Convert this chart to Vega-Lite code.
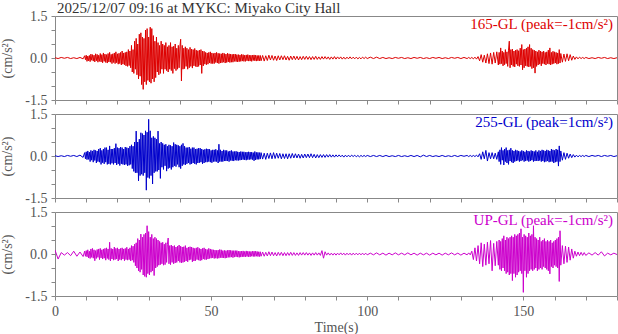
{
"$schema":"https://vega.github.io/schema/vega-lite/v6.json",
"background":"white",
"padding":{"left":0,"top":0,"right":1,"bottom":1},
"config":{
"font":"Liberation Serif",
"view":{"stroke":"#888","strokeWidth":1},
"axis":{"grid":false,"domain":false,"ticks":true,"tickColor":"#888888","tickWidth":1,"tickOpacity":1,"tickSize":4,"labelFont":"Liberation Serif","labelFontSize":14,"labelColor":"#555","titleFont":"Liberation Serif","titleFontSize":14,"titleColor":"#555","titleFontWeight":"normal","labelFlush":false,"labelOverlap":false}
},
"spacing":14,
"bounds":"flush",
"datasets":{"w":[
{"t":0,"a":0.01,"b":0.01,"c":0.14},{"t":1,"a":-0.02,"b":-0.02,"c":-0.18},{"t":2,"a":0.02,"b":0.01,"c":0.05},{"t":3,"a":-0.01,"b":-0.02,"c":-0.04},{"t":4,"a":0.02,"b":0.02,"c":0.05},{"t":5,"a":-0.02,"b":-0.01,"c":-0.06},{"t":6,"a":0.01,"b":0.02,"c":0.1},{"t":7,"a":-0.02,"b":-0.02,"c":-0.08},{"t":8,"a":0.02,"b":0.03,"c":0.07},{"t":9,"a":-0.03,"b":-0.05,"c":-0.09},
{"t":9.5,"a":0.08,"b":0.12,"c":0.1},{"t":9.75,"a":-0.06,"b":-0.1,"c":-0.08},{"t":10,"a":0.1,"b":0.15,"c":0.12},{"t":10.25,"a":-0.12,"b":-0.13,"c":-0.1},{"t":10.5,"a":0.07,"b":0.18,"c":0.15},{"t":10.75,"a":-0.1,"b":-0.12,"c":-0.14},{"t":11,"a":0.09,"b":0.14,"c":0.1},{"t":11.25,"a":-0.13,"b":-0.2,"c":-0.16},{"t":11.5,"a":0.14,"b":0.2,"c":0.18},{"t":11.75,"a":-0.08,"b":-0.15,"c":-0.12},{"t":12,"a":0.12,"b":0.18,"c":0.2},{"t":12.25,"a":-0.11,"b":-0.22,"c":-0.15},{"t":12.5,"a":0.1,"b":0.22,"c":0.15},{"t":12.75,"a":-0.14,"b":-0.16,"c":-0.24},{"t":13,"a":0.15,"b":0.2,"c":0.12},{"t":13.25,"a":-0.1,"b":-0.25,"c":-0.16},{"t":13.5,"a":0.13,"b":0.18,"c":0.16},{"t":13.75,"a":-0.15,"b":-0.2,"c":-0.12},{"t":14,"a":0.1,"b":0.25,"c":0.18},{"t":14.25,"a":-0.12,"b":-0.22,"c":-0.2},{"t":14.5,"a":0.16,"b":0.28,"c":0.2},{"t":14.75,"a":-0.14,"b":-0.3,"c":-0.14},{"t":15,"a":0.12,"b":0.2,"c":0.15},{"t":15.25,"a":-0.17,"b":-0.24,"c":-0.18},{"t":15.5,"a":0.18,"b":0.25,"c":0.18},{"t":15.75,"a":-0.12,"b":-0.28,"c":-0.15},{"t":16,"a":0.14,"b":0.3,"c":0.2},{"t":16.25,"a":-0.16,"b":-0.22,"c":-0.22},{"t":16.5,"a":0.12,"b":0.3,"c":0.22},{"t":16.75,"a":-0.18,"b":-0.3,"c":-0.16},{"t":17,"a":0.16,"b":0.22,"c":0.18},{"t":17.25,"a":-0.14,"b":-0.28,"c":-0.2},{"t":17.5,"a":0.2,"b":0.36,"c":0.42},{"t":17.75,"a":-0.15,"b":-0.3,"c":-0.25},{"t":18,"a":0.13,"b":0.25,"c":0.2},{"t":18.25,"a":-0.2,"b":-0.26,"c":-0.18},{"t":18.5,"a":0.15,"b":0.25,"c":0.18},{"t":18.75,"a":-0.16,"b":-0.3,"c":-0.22},{"t":19,"a":0.18,"b":0.28,"c":0.25},{"t":19.25,"a":-0.2,"b":-0.25,"c":-0.2},{"t":19.5,"a":0.22,"b":0.44,"c":0.2},{"t":19.75,"a":-0.17,"b":-0.32,"c":-0.18},{"t":20,"a":0.15,"b":0.3,"c":0.22},{"t":20.25,"a":-0.22,"b":-0.28,"c":-0.25},{"t":20.5,"a":0.17,"b":0.28,"c":0.18},{"t":20.75,"a":-0.2,"b":-0.34,"c":-0.2},{"t":21,"a":0.2,"b":0.32,"c":0.2},{"t":21.25,"a":-0.25,"b":-0.28,"c":-0.22},{"t":21.5,"a":0.25,"b":0.3,"c":0.22},{"t":21.75,"a":-0.22,"b":-0.3,"c":-0.18},{"t":22,"a":0.18,"b":0.25,"c":0.18},{"t":22.25,"a":-0.24,"b":-0.32,"c":-0.24},{"t":22.5,"a":0.2,"b":0.32,"c":0.2},{"t":22.75,"a":-0.28,"b":-0.3,"c":-0.2},{"t":23,"a":0.22,"b":0.3,"c":0.24},{"t":23.25,"a":-0.3,"b":-0.35,"c":-0.22},{"t":23.5,"a":0.3,"b":0.28,"c":0.18},{"t":23.75,"a":-0.27,"b":-0.33,"c":-0.2},{"t":24,"a":0.25,"b":0.35,"c":0.22},
{"t":24.25,"a":-0.35,"b":-0.3,"c":-0.25},{"t":24.5,"a":0.45,"b":0.4,"c":0.3},{"t":24.75,"a":-0.5,"b":-0.45,"c":-0.22},{"t":25,"a":0.3,"b":0.35,"c":0.28},{"t":25.25,"a":-0.55,"b":-0.55,"c":-0.3},{"t":25.5,"a":0.6,"b":0.5,"c":0.35},{"t":25.75,"a":-0.4,"b":-0.6,"c":-0.42},{"t":26,"a":0.7,"b":0.89,"c":0.4},{"t":26.25,"a":-0.6,"b":-0.6,"c":-0.5},{"t":26.5,"a":0.5,"b":0.5,"c":0.55},{"t":26.75,"a":-0.75,"b":-0.89,"c":-0.6},{"t":27,"a":0.85,"b":0.6,"c":0.5},{"t":27.25,"a":-0.65,"b":-0.7,"c":-0.65},{"t":27.5,"a":0.9,"b":0.83,"c":0.71},{"t":27.75,"a":-0.95,"b":-0.65,"c":-0.55},{"t":28,"a":0.75,"b":0.8,"c":0.6},{"t":28.25,"a":-1.12,"b":-0.7,"c":-0.75},{"t":28.5,"a":0.7,"b":0.75,"c":0.7},{"t":28.75,"a":-0.85,"b":-0.6,"c":-0.8},{"t":29,"a":1.0,"b":0.9,"c":0.75},{"t":29.25,"a":-0.95,"b":-1.22,"c":-0.83},{"t":29.5,"a":1.05,"b":0.85,"c":1.01},{"t":29.75,"a":-0.8,"b":-0.77,"c":-0.7},{"t":30,"a":0.75,"b":1.31,"c":0.8},{"t":30.25,"a":-0.85,"b":-0.8,"c":-0.75},{"t":30.5,"a":1.1,"b":0.9,"c":0.6},{"t":30.75,"a":-0.9,"b":-0.7,"c":-0.65},{"t":31,"a":1.05,"b":0.65,"c":0.7},{"t":31.25,"a":-0.75,"b":-1.0,"c":-0.6},{"t":31.5,"a":0.8,"b":0.7,"c":0.55},{"t":31.75,"a":-0.85,"b":-0.6,"c":-0.77},{"t":32,"a":0.6,"b":0.65,"c":0.6},{"t":32.25,"a":-0.7,"b":-0.55,"c":-0.5},{"t":32.5,"a":0.75,"b":0.6,"c":0.55},{"t":32.75,"a":-0.5,"b":-0.55,"c":-0.45},{"t":33,"a":0.55,"b":0.89,"c":0.5},{"t":33.25,"a":-0.6,"b":-0.5,"c":-0.4},{"t":33.5,"a":0.45,"b":0.45,"c":0.45},{"t":33.75,"a":-0.55,"b":-0.8,"c":-0.38},{"t":34,"a":0.6,"b":0.5,"c":0.4},{"t":34.25,"a":-0.4,"b":-0.4,"c":-0.35},{"t":34.5,"a":0.5,"b":0.45,"c":0.42},{"t":34.75,"a":-0.55,"b":-0.48,"c":-0.4},{"t":35,"a":0.45,"b":0.4,"c":0.35},{"t":35.25,"a":-0.4,"b":-0.35,"c":-0.38},{"t":35.5,"a":0.55,"b":0.42,"c":0.4},{"t":35.75,"a":-0.45,"b":-0.54,"c":-0.3},{"t":36,"a":0.4,"b":0.35,"c":0.35},
{"t":36.25,"a":-0.5,"b":-0.45,"c":0.57},{"t":36.5,"a":0.45,"b":0.4,"c":-0.35},{"t":36.75,"a":-0.4,"b":-0.42,"c":0.3},{"t":37,"a":0.55,"b":0.38,"c":-0.38},{"t":37.25,"a":-0.45,"b":-0.48,"c":0.32},{"t":37.5,"a":0.4,"b":0.35,"c":-0.3},{"t":37.75,"a":-0.55,"b":-0.4,"c":0.28},{"t":38,"a":0.42,"b":0.48,"c":-0.35},{"t":38.25,"a":-0.38,"b":-0.35,"c":0.3},{"t":38.5,"a":0.5,"b":0.42,"c":-0.32},{"t":38.75,"a":-0.45,"b":-0.38,"c":0.25},{"t":39,"a":0.35,"b":0.4,"c":-0.3},{"t":39.25,"a":-0.4,"b":-0.3,"c":0.28},{"t":39.5,"a":0.45,"b":0.38,"c":-0.25},{"t":39.75,"a":-0.35,"b":-0.4,"c":0.32},{"t":40,"a":0.4,"b":0.35,"c":-0.3},{"t":40.25,"a":0.67,"b":-0.45,"c":0.28},{"t":40.5,"a":-0.82,"b":0.4,"c":-0.32},{"t":40.75,"a":0.45,"b":-0.35,"c":0.25},{"t":41,"a":-0.4,"b":0.45,"c":-0.3},{"t":41.25,"a":0.35,"b":-0.3,"c":0.26},{"t":41.5,"a":-0.38,"b":0.35,"c":-0.28},{"t":41.75,"a":0.4,"b":-0.32,"c":0.3},{"t":42,"a":-0.3,"b":0.3,"c":-0.25},{"t":42.25,"a":0.35,"b":-0.28,"c":0.22},{"t":42.5,"a":-0.4,"b":0.3,"c":-0.28},{"t":42.75,"a":0.3,"b":-0.25,"c":0.25},{"t":43,"a":-0.35,"b":0.32,"c":-0.22},{"t":43.25,"a":0.38,"b":-0.3,"c":0.26},{"t":43.5,"a":-0.3,"b":0.26,"c":-0.2},{"t":43.75,"a":0.32,"b":-0.28,"c":0.25},{"t":44,"a":-0.36,"b":0.3,"c":-0.28},{"t":44.25,"a":0.3,"b":-0.25,"c":0.22},{"t":44.5,"a":-0.28,"b":0.3,"c":-0.25},{"t":44.75,"a":0.34,"b":-0.28,"c":0.2},{"t":45,"a":-0.3,"b":0.25,"c":-0.24},{"t":45.25,"a":0.28,"b":-0.3,"c":0.22},{"t":45.5,"a":-0.32,"b":0.26,"c":-0.2},{"t":45.75,"a":0.26,"b":-0.25,"c":0.24},{"t":46,"a":-0.3,"b":0.28,"c":-0.22},{"t":46.25,"a":0.28,"b":-0.24,"c":0.2},{"t":46.5,"a":-0.25,"b":0.28,"c":-0.24},{"t":46.75,"a":0.3,"b":-0.22,"c":0.18},{"t":47,"a":-0.55,"b":0.25,"c":-0.22},{"t":47.25,"a":0.25,"b":-0.28,"c":0.2},{"t":47.5,"a":-0.28,"b":0.22,"c":-0.18},{"t":47.75,"a":0.24,"b":-0.25,"c":0.22},{"t":48,"a":-0.22,"b":0.24,"c":-0.2},{"t":48.25,"a":0.2,"b":-0.22,"c":0.18},{"t":48.5,"a":-0.24,"b":0.26,"c":-0.2},{"t":48.75,"a":0.18,"b":-0.22,"c":0.16},{"t":49,"a":-0.22,"b":0.25,"c":-0.18},{"t":49.25,"a":0.2,"b":-0.2,"c":0.2},{"t":49.5,"a":-0.18,"b":0.24,"c":-0.16},{"t":49.75,"a":0.22,"b":-0.22,"c":0.18},{"t":50,"a":-0.2,"b":0.2,"c":-0.15},{"t":50.25,"a":0.18,"b":-0.24,"c":0.16},{"t":50.5,"a":-0.2,"b":0.22,"c":-0.14},{"t":50.75,"a":0.16,"b":-0.2,"c":0.15},{"t":51,"a":-0.2,"b":0.22,"c":-0.16},{"t":51.25,"a":0.18,"b":-0.2,"c":0.14},{"t":51.5,"a":-0.16,"b":0.24,"c":-0.15},{"t":51.75,"a":0.2,"b":-0.2,"c":0.13},{"t":52,"a":-0.18,"b":0.2,"c":-0.16},{"t":52.25,"a":0.17,"b":-0.25,"c":0.14},{"t":52.5,"a":-0.2,"b":0.42,"c":-0.15},{"t":52.75,"a":0.16,"b":-0.2,"c":0.16},{"t":53,"a":-0.18,"b":0.22,"c":-0.13},{"t":53.25,"a":0.15,"b":-0.2,"c":0.15},{"t":53.5,"a":-0.17,"b":0.18,"c":-0.14},{"t":53.75,"a":0.18,"b":-0.2,"c":0.12},{"t":54,"a":-0.15,"b":0.22,"c":-0.14},{"t":54.25,"a":0.16,"b":-0.18,"c":0.13},{"t":54.5,"a":-0.18,"b":0.2,"c":-0.15},{"t":54.75,"a":0.14,"b":-0.18,"c":0.12},{"t":55,"a":-0.16,"b":0.2,"c":-0.14},{"t":55.25,"a":0.17,"b":-0.18,"c":0.13},{"t":55.5,"a":-0.14,"b":0.16,"c":-0.12},{"t":55.75,"a":0.15,"b":-0.2,"c":0.14},{"t":56,"a":-0.16,"b":0.18,"c":-0.12},{"t":56.25,"a":0.14,"b":-0.16,"c":0.13},{"t":56.5,"a":-0.15,"b":0.2,"c":-0.11},{"t":56.75,"a":0.13,"b":-0.17,"c":0.12},{"t":57,"a":-0.15,"b":0.16,"c":-0.13},{"t":57.25,"a":0.14,"b":-0.18,"c":0.12},{"t":57.5,"a":-0.12,"b":0.16,"c":-0.11},{"t":57.75,"a":0.14,"b":-0.15,"c":0.12},{"t":58,"a":-0.13,"b":0.17,"c":-0.1},{"t":58.25,"a":0.12,"b":-0.16,"c":0.12},{"t":58.5,"a":-0.14,"b":0.15,"c":-0.11},{"t":58.75,"a":0.12,"b":-0.16,"c":0.1},{"t":59,"a":-0.13,"b":0.14,"c":-0.12},{"t":59.25,"a":0.11,"b":-0.15,"c":0.1},{"t":59.5,"a":-0.12,"b":0.16,"c":-0.11},{"t":59.75,"a":0.13,"b":-0.14,"c":0.1},{"t":60,"a":-0.11,"b":0.15,"c":-0.1},{"t":60.25,"a":0.12,"b":-0.13,"c":0.11},{"t":60.5,"a":-0.12,"b":0.15,"c":-0.1},{"t":60.75,"a":0.1,"b":-0.14,"c":0.09},{"t":61,"a":-0.12,"b":0.13,"c":-0.1},{"t":61.25,"a":0.11,"b":-0.15,"c":0.11},{"t":61.5,"a":-0.1,"b":0.14,"c":-0.09},{"t":61.75,"a":0.12,"b":-0.13,"c":0.1},{"t":62,"a":-0.11,"b":0.15,"c":-0.1},{"t":62.25,"a":0.1,"b":-0.13,"c":0.09},{"t":62.5,"a":-0.11,"b":0.14,"c":-0.1},{"t":62.75,"a":0.1,"b":-0.12,"c":0.09},{"t":63,"a":-0.12,"b":0.14,"c":-0.08},{"t":63.25,"a":0.1,"b":-0.13,"c":0.1},{"t":63.5,"a":-0.09,"b":0.12,"c":-0.09},{"t":63.75,"a":0.11,"b":-0.17,"c":0.1},{"t":64,"a":-0.1,"b":0.16,"c":-0.09},{"t":64.25,"a":0.1,"b":-0.14,"c":0.1},{"t":64.5,"a":-0.11,"b":0.13,"c":-0.08},{"t":64.75,"a":0.09,"b":-0.12,"c":0.09},{"t":65,"a":-0.1,"b":0.13,"c":-0.09},{"t":65.25,"a":0.09,"b":-0.12,"c":0.08},{"t":65.5,"a":-0.1,"b":0.12,"c":-0.09},{"t":65.75,"a":0.09,"b":-0.11,"c":0.08},{"t":66,"a":-0.1,"b":0.12,"c":-0.08},
{"t":66.5,"a":0.09,"b":-0.11,"c":0.07},{"t":67,"a":-0.11,"b":0.1,"c":-0.08},{"t":67.5,"a":0.08,"b":-0.12,"c":0.06},{"t":68,"a":-0.09,"b":0.1,"c":-0.07},{"t":68.5,"a":0.1,"b":-0.09,"c":0.08},{"t":69,"a":-0.07,"b":0.11,"c":-0.06},{"t":69.5,"a":0.09,"b":-0.1,"c":0.07},{"t":70,"a":-0.08,"b":0.12,"c":-0.06},{"t":70.5,"a":0.07,"b":-0.09,"c":0.05},{"t":71,"a":-0.09,"b":0.1,"c":-0.07},{"t":71.5,"a":0.08,"b":-0.08,"c":0.06},{"t":72,"a":-0.07,"b":0.09,"c":-0.05},{"t":72.5,"a":0.08,"b":-0.1,"c":0.06},{"t":73,"a":-0.06,"b":0.08,"c":-0.06},{"t":73.5,"a":0.08,"b":-0.09,"c":0.05},{"t":74,"a":-0.07,"b":0.08,"c":-0.06},{"t":74.5,"a":0.06,"b":-0.1,"c":0.05},{"t":75,"a":-0.08,"b":0.08,"c":-0.05},{"t":75.5,"a":0.07,"b":-0.08,"c":0.06},{"t":76,"a":-0.06,"b":0.09,"c":-0.05},{"t":76.5,"a":0.07,"b":-0.07,"c":0.05},{"t":77,"a":-0.06,"b":0.08,"c":-0.05},{"t":77.5,"a":0.06,"b":-0.07,"c":0.04},{"t":78,"a":-0.07,"b":0.07,"c":-0.05},{"t":78.5,"a":0.05,"b":-0.08,"c":0.05},{"t":79,"a":-0.06,"b":0.06,"c":-0.04},{"t":79.5,"a":0.06,"b":-0.07,"c":0.05},{"t":80,"a":-0.05,"b":0.07,"c":-0.04},{"t":80.5,"a":0.06,"b":-0.06,"c":0.05},{"t":81,"a":-0.05,"b":0.07,"c":-0.04},{"t":81.5,"a":0.05,"b":-0.06,"c":0.04},{"t":82,"a":-0.06,"b":0.08,"c":-0.05},{"t":82.5,"a":0.05,"b":-0.06,"c":0.04},{"t":83,"a":-0.05,"b":0.06,"c":-0.04},{"t":83.5,"a":0.06,"b":-0.07,"c":0.05},{"t":84,"a":-0.05,"b":0.05,"c":-0.04},{"t":84.5,"a":0.04,"b":-0.06,"c":0.04},{"t":85,"a":-0.05,"b":0.05,"c":-0.05},{"t":85.5,"a":0.05,"b":-0.05,"c":0.12},{"t":86,"a":-0.04,"b":0.05,"c":-0.15},{"t":86.5,"a":0.05,"b":-0.05,"c":0.08},{"t":87,"a":-0.04,"b":0.05,"c":-0.04},{"t":87.5,"a":0.04,"b":-0.04,"c":0.04},{"t":88,"a":-0.05,"b":0.05,"c":-0.04},{"t":88.5,"a":0.04,"b":-0.04,"c":0.03},{"t":89,"a":-0.04,"b":0.04,"c":-0.04},{"t":89.5,"a":0.05,"b":-0.04,"c":0.03},{"t":90,"a":-0.04,"b":0.04,"c":-0.04},{"t":90.5,"a":0.04,"b":-0.03,"c":0.03},{"t":91,"a":-0.03,"b":0.04,"c":-0.03},{"t":91.5,"a":0.04,"b":-0.03,"c":0.04},{"t":92,"a":-0.04,"b":0.03,"c":-0.03},{"t":92.5,"a":0.03,"b":-0.04,"c":0.03},{"t":93,"a":-0.04,"b":0.03,"c":-0.04},{"t":93.5,"a":0.03,"b":-0.03,"c":0.03},{"t":94,"a":-0.03,"b":0.03,"c":-0.03},{"t":94.5,"a":0.04,"b":-0.03,"c":0.03},{"t":95,"a":-0.03,"b":0.03,"c":-0.04},{"t":95.5,"a":0.03,"b":-0.02,"c":0.03},{"t":96,"a":-0.03,"b":0.03,"c":-0.03},{"t":96.5,"a":0.03,"b":-0.03,"c":0.03},{"t":97,"a":-0.03,"b":0.02,"c":-0.03},{"t":97.5,"a":0.02,"b":-0.03,"c":0.03},{"t":98,"a":-0.03,"b":0.02,"c":-0.03},{"t":98.5,"a":0.03,"b":-0.02,"c":0.03},{"t":99,"a":-0.02,"b":0.02,"c":-0.03},{"t":99.5,"a":0.03,"b":-0.02,"c":0.03},{"t":100,"a":-0.02,"b":0.02,"c":-0.03},
{"t":101,"a":0.03,"b":-0.02,"c":0.03},{"t":102,"a":-0.02,"b":0.02,"c":-0.03},{"t":103,"a":0.03,"b":-0.02,"c":0.04},{"t":104,"a":-0.02,"b":0.02,"c":-0.03},{"t":105,"a":0.02,"b":-0.02,"c":0.03},{"t":106,"a":-0.02,"b":0.02,"c":-0.04},{"t":107,"a":0.01,"b":-0.02,"c":0.03},{"t":108,"a":-0.02,"b":0.01,"c":-0.03},{"t":109,"a":0.02,"b":-0.02,"c":0.04},{"t":110,"a":-0.01,"b":0.02,"c":-0.03},{"t":111,"a":0.02,"b":-0.02,"c":0.03},{"t":112,"a":-0.02,"b":0.01,"c":-0.03},{"t":113,"a":0.01,"b":-0.02,"c":0.04},{"t":114,"a":-0.02,"b":0.02,"c":-0.03},{"t":115,"a":0.02,"b":-0.02,"c":0.03},{"t":116,"a":-0.01,"b":0.02,"c":-0.04},{"t":117,"a":0.02,"b":-0.03,"c":0.03},{"t":118,"a":-0.02,"b":0.03,"c":-0.03},{"t":119,"a":0.01,"b":-0.02,"c":0.03},{"t":120,"a":-0.02,"b":0.02,"c":-0.04},{"t":121,"a":0.02,"b":-0.02,"c":0.03},{"t":122,"a":-0.01,"b":0.01,"c":-0.03},{"t":123,"a":0.02,"b":-0.02,"c":0.03},{"t":124,"a":-0.02,"b":0.02,"c":-0.04},{"t":125,"a":0.01,"b":-0.02,"c":0.03},{"t":126,"a":-0.02,"b":0.01,"c":-0.03},{"t":127,"a":0.02,"b":-0.02,"c":0.04},{"t":128,"a":-0.01,"b":0.02,"c":-0.03},{"t":129,"a":0.02,"b":-0.02,"c":0.03},{"t":130,"a":-0.02,"b":0.02,"c":-0.04},{"t":131,"a":0.02,"b":-0.01,"c":0.03},{"t":132,"a":-0.02,"b":0.02,"c":-0.03},
{"t":132.5,"a":0.02,"b":-0.02,"c":0.04},{"t":133,"a":-0.02,"b":0.02,"c":-0.03},{"t":133.5,"a":0.02,"b":-0.02,"c":0.1},{"t":134,"a":-0.03,"b":0.02,"c":-0.2},{"t":134.5,"a":0.03,"b":-0.02,"c":0.22},{"t":135,"a":-0.04,"b":0.03,"c":-0.25},{"t":135.5,"a":0.05,"b":-0.03,"c":0.3},{"t":136,"a":-0.1,"b":0.08,"c":-0.35},{"t":136.5,"a":0.12,"b":-0.12,"c":0.4},{"t":137,"a":-0.15,"b":0.15,"c":-0.45},{"t":137.5,"a":0.1,"b":-0.1,"c":0.35},{"t":138,"a":-0.18,"b":0.2,"c":-0.4},{"t":138.5,"a":0.15,"b":-0.18,"c":0.42},{"t":139,"a":-0.2,"b":0.12,"c":-0.35},{"t":139.5,"a":0.18,"b":-0.1,"c":0.48},{"t":140,"a":-0.22,"b":0.12,"c":-0.6},{"t":140.5,"a":0.2,"b":-0.1,"c":0.38},{"t":141,"a":-0.18,"b":0.1,"c":-0.42},{"t":141.5,"a":0.22,"b":-0.12,"c":0.45},{"t":142,"a":-0.25,"b":0.15,"c":-0.4},
{"t":142.25,"a":0.2,"b":-0.2,"c":0.5},{"t":142.5,"a":-0.22,"b":0.22,"c":-0.55},{"t":142.75,"a":0.36,"b":-0.3,"c":0.45},{"t":143,"a":-0.2,"b":0.3,"c":-0.6},{"t":143.25,"a":0.25,"b":-0.15,"c":0.55},{"t":143.5,"a":-0.28,"b":0.2,"c":-0.5},{"t":143.75,"a":0.2,"b":-0.32,"c":0.65},{"t":144,"a":-0.24,"b":0.25,"c":-0.6},{"t":144.25,"a":0.3,"b":-0.2,"c":0.5},{"t":144.5,"a":-0.2,"b":0.3,"c":-0.7},{"t":144.75,"a":0.22,"b":-0.25,"c":0.6},{"t":145,"a":-0.3,"b":0.2,"c":-0.65},{"t":145.25,"a":0.28,"b":-0.3,"c":0.55},{"t":145.5,"a":0.6,"b":0.22,"c":-0.75},{"t":145.75,"a":-0.35,"b":-0.18,"c":0.6},{"t":146,"a":0.3,"b":0.28,"c":-0.7},{"t":146.25,"a":-0.25,"b":-0.22,"c":0.65},{"t":146.5,"a":0.32,"b":0.2,"c":-0.95},{"t":146.75,"a":-0.3,"b":-0.25,"c":0.6},{"t":147,"a":0.25,"b":0.18,"c":-0.7},{"t":147.25,"a":-0.32,"b":-0.2,"c":0.7},{"t":147.5,"a":0.28,"b":0.22,"c":-0.83},{"t":147.75,"a":-0.22,"b":-0.18,"c":0.65},{"t":148,"a":0.3,"b":0.2,"c":-0.75},{"t":148.25,"a":-0.28,"b":-0.16,"c":0.7},{"t":148.5,"a":0.26,"b":0.18,"c":-0.65},{"t":148.75,"a":-0.3,"b":-0.2,"c":0.75},{"t":149,"a":0.35,"b":0.16,"c":-0.6},{"t":149.25,"a":-0.25,"b":-0.18,"c":0.9},{"t":149.5,"a":0.48,"b":0.2,"c":-0.7},{"t":149.75,"a":-0.42,"b":-0.15,"c":0.6},{"t":150,"a":0.3,"b":0.18,"c":-1.37},{"t":150.25,"a":-0.35,"b":-0.2,"c":0.7},{"t":150.5,"a":0.32,"b":0.15,"c":-0.6},{"t":150.75,"a":-0.28,"b":-0.18,"c":0.65},{"t":151,"a":0.35,"b":0.2,"c":-0.83},{"t":151.25,"a":-0.3,"b":-0.16,"c":0.6},{"t":151.5,"a":0.4,"b":0.18,"c":-0.7},{"t":151.75,"a":-0.32,"b":-0.2,"c":0.75},{"t":152,"a":0.48,"b":0.16,"c":-0.6},{"t":152.25,"a":-0.3,"b":-0.18,"c":0.65},{"t":152.5,"a":0.35,"b":0.2,"c":-0.55},{"t":152.75,"a":-0.38,"b":-0.15,"c":0.7},{"t":153,"a":0.3,"b":0.18,"c":-0.6},{"t":153.25,"a":-0.35,"b":-0.2,"c":1.01},{"t":153.5,"a":0.28,"b":0.16,"c":-0.55},{"t":153.75,"a":-0.54,"b":-0.18,"c":0.6},{"t":154,"a":0.25,"b":0.2,"c":-0.5},{"t":154.25,"a":-0.3,"b":-0.17,"c":0.55},{"t":154.5,"a":0.22,"b":0.15,"c":-0.6},{"t":154.75,"a":-0.25,"b":-0.18,"c":0.5},{"t":155,"a":0.28,"b":0.2,"c":-0.55},{"t":155.25,"a":-0.22,"b":-0.16,"c":0.6},{"t":155.5,"a":0.25,"b":0.18,"c":-0.5},{"t":155.75,"a":-0.28,"b":-0.2,"c":0.45},{"t":156,"a":0.22,"b":0.22,"c":-0.55},{"t":156.25,"a":-0.2,"b":-0.18,"c":0.5},{"t":156.5,"a":0.25,"b":0.2,"c":-0.45},{"t":156.75,"a":-0.22,"b":-0.22,"c":0.55},{"t":157,"a":0.2,"b":0.18,"c":-0.5},{"t":157.25,"a":-0.25,"b":-0.2,"c":0.45},{"t":157.5,"a":0.22,"b":0.22,"c":-0.55},{"t":157.75,"a":-0.2,"b":-0.18,"c":0.5},{"t":158,"a":0.28,"b":0.2,"c":-0.6},{"t":158.25,"a":-0.22,"b":-0.22,"c":0.45},{"t":158.5,"a":0.36,"b":0.18,"c":-0.71},{"t":158.75,"a":-0.25,"b":-0.2,"c":0.5},{"t":159,"a":0.2,"b":0.25,"c":-0.45},{"t":159.25,"a":-0.22,"b":-0.2,"c":0.4},{"t":159.5,"a":0.24,"b":0.22,"c":-0.5},{"t":159.75,"a":-0.2,"b":-0.25,"c":0.45},{"t":160,"a":0.22,"b":0.2,"c":-0.4},{"t":160.25,"a":-0.18,"b":-0.22,"c":0.5},{"t":160.5,"a":0.2,"b":0.25,"c":-0.45},{"t":160.75,"a":-0.22,"b":-0.2,"c":0.55},{"t":161,"a":0.18,"b":0.22,"c":-0.5},{"t":161.25,"a":-0.2,"b":-0.36,"c":0.6},{"t":161.5,"a":0.3,"b":0.36,"c":-0.98},{"t":161.75,"a":-0.18,"b":-0.2,"c":0.83},{"t":162,"a":0.16,"b":0.18,"c":-0.4},
{"t":162.5,"a":-0.15,"b":-0.15,"c":0.3},{"t":163,"a":0.14,"b":0.12,"c":-0.35},{"t":163.5,"a":-0.12,"b":-0.12,"c":0.28},{"t":164,"a":0.15,"b":0.1,"c":-0.3},{"t":164.5,"a":-0.1,"b":-0.08,"c":0.25},{"t":165,"a":0.12,"b":0.07,"c":-0.22},{"t":165.5,"a":-0.08,"b":-0.06,"c":0.18},{"t":166,"a":0.07,"b":0.05,"c":-0.15},{"t":166.5,"a":-0.05,"b":-0.04,"c":0.1},{"t":167,"a":0.04,"b":0.03,"c":-0.08},{"t":167.5,"a":-0.03,"b":-0.03,"c":0.07},{"t":168,"a":0.03,"b":0.02,"c":-0.06},{"t":168.5,"a":-0.02,"b":-0.02,"c":0.06},{"t":169,"a":0.02,"b":0.02,"c":-0.05},{"t":169.5,"a":-0.02,"b":-0.02,"c":0.05},{"t":170,"a":0.02,"b":0.02,"c":-0.05},
{"t":171,"a":-0.02,"b":-0.02,"c":0.04},{"t":172,"a":0.01,"b":0.02,"c":-0.04},{"t":173,"a":-0.02,"b":-0.01,"c":0.05},{"t":174,"a":0.02,"b":0.02,"c":-0.04},{"t":175,"a":-0.01,"b":-0.02,"c":0.08},{"t":176,"a":0.02,"b":0.02,"c":-0.07},{"t":177,"a":-0.02,"b":-0.01,"c":0.03},{"t":178,"a":0.01,"b":0.02,"c":-0.03},{"t":179,"a":-0.02,"b":-0.02,"c":0.03},{"t":180,"a":0.01,"b":0.01,"c":-0.02}
]},
"vconcat":[
{"width":562,"height":84,
"title":{"text":"2025/12/07 09:16 at MYKC: Miyako City Hall","anchor":"start","frame":"group","fontSize":15,"font":"Liberation Serif","fontWeight":"normal","color":"#333","offset":-7,"dx":2},
"encoding":{"x":{"field":"t","type":"quantitative","scale":{"domain":[0,180],"nice":false,"zero":false},"axis":{"values":[0,10,20,30,40,50,60,70,80,90,100,110,120,130,140,150,160,170,180],"labels":false,"ticks":true,"labelOverlap":false,"title":null}},
"y":{"field":"a","type":"quantitative","scale":{"domain":[-1.5,1.5],"nice":false},"axis":{"values":[-1.5,-1,-0.5,0,0.5,1,1.5],"ticks":true,"labelOverlap":false,"labelExpr":"abs(datum.value) == 1.5 || datum.value == 0 ? replace(format(datum.value, '.1f'), '−', '-') : ''","title":"(cm/s²)","titlePadding":10,"labelPadding":4}}},
"layer":[
{"data":{"name":"w"},"mark":{"type":"line","color":"#dd0000","strokeWidth":1,"clip":true}},
{"data":{"values":[{"t":180,"a":1.5,"s":"165-GL (peak=-1cm/s²)"}]},"mark":{"type":"text","align":"right","baseline":"alphabetic","dx":-4,"dy":13,"color":"#dd0000","fontSize":15,"font":"Liberation Serif"},
"encoding":{"text":{"field":"s"}}}
]},
{"width":562,"height":84,
"encoding":{"x":{"field":"t","type":"quantitative","scale":{"domain":[0,180],"nice":false,"zero":false},"axis":{"values":[0,10,20,30,40,50,60,70,80,90,100,110,120,130,140,150,160,170,180],"labels":false,"ticks":true,"labelOverlap":false,"title":null}},
"y":{"field":"b","type":"quantitative","scale":{"domain":[-1.5,1.5],"nice":false},"axis":{"values":[-1.5,-1,-0.5,0,0.5,1,1.5],"ticks":true,"labelOverlap":false,"labelExpr":"abs(datum.value) == 1.5 || datum.value == 0 ? replace(format(datum.value, '.1f'), '−', '-') : ''","title":"(cm/s²)","titlePadding":10,"labelPadding":4}}},
"layer":[
{"data":{"name":"w"},"mark":{"type":"line","color":"#0000cc","strokeWidth":1,"clip":true}},
{"data":{"values":[{"t":180,"b":1.5,"s":"255-GL (peak=1cm/s²)"}]},"mark":{"type":"text","align":"right","baseline":"alphabetic","dx":-4,"dy":13,"color":"#0000cc","fontSize":15,"font":"Liberation Serif"},
"encoding":{"text":{"field":"s"}}}
]},
{"width":562,"height":84,
"encoding":{"x":{"field":"t","type":"quantitative","scale":{"domain":[0,180],"nice":false,"zero":false},"axis":{"values":[0,10,20,30,40,50,60,70,80,90,100,110,120,130,140,150,160,170,180],"ticks":true,"labelOverlap":false,"labelExpr":"datum.value % 50 == 0 ? datum.label : ''","labelPadding":4,"title":"Time(s)","titlePadding":2}},
"y":{"field":"c","type":"quantitative","scale":{"domain":[-1.5,1.5],"nice":false},"axis":{"values":[-1.5,-1,-0.5,0,0.5,1,1.5],"ticks":true,"labelOverlap":false,"labelExpr":"abs(datum.value) == 1.5 || datum.value == 0 ? replace(format(datum.value, '.1f'), '−', '-') : ''","title":"(cm/s²)","titlePadding":10,"labelPadding":4}}},
"layer":[
{"data":{"name":"w"},"mark":{"type":"line","color":"#cc00cc","strokeWidth":1,"clip":true}},
{"data":{"values":[{"t":180,"c":1.5,"s":"UP-GL (peak=-1cm/s²)"}]},"mark":{"type":"text","align":"right","baseline":"alphabetic","dx":-4,"dy":13,"color":"#cc00cc","fontSize":15,"font":"Liberation Serif"},
"encoding":{"text":{"field":"s"}}}
]}
]
}
